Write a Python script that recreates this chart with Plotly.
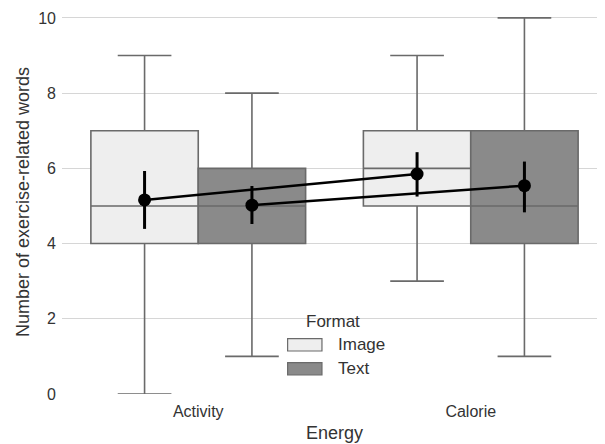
import plotly.graph_objects as go

categories = ["Activity", "Calorie"]
formats = ["Image", "Text"]

# box statistics per format, per category
lowerfence = {"Image": [0, 3], "Text": [1, 1]}
q1 = {"Image": [4, 5], "Text": [4, 4]}
median = {"Image": [5, 6], "Text": [5, 5]}
q3 = {"Image": [7, 7], "Text": [6, 7]}
upperfence = {"Image": [9, 9], "Text": [8, 10]}

# means with confidence intervals
mean = {"Image": [5.16, 5.85], "Text": [5.02, 5.54]}
ci_low = {"Image": [4.39, 5.25], "Text": [4.52, 4.83]}
ci_high = {"Image": [5.93, 6.43], "Text": [5.53, 6.18]}

fills = {"Image": "#eeeeee", "Text": "#8a8a8a"}
edge = "#6a6a6a"
font = "Liberation Sans, Arial, sans-serif"

box_w = 0.394
offsets = {"Image": -box_w / 2, "Text": box_w / 2}

fig = go.Figure()
for f in formats:
    xs = [i + offsets[f] for i in range(len(categories))]
    fig.add_trace(go.Box(
        x=xs, q1=q1[f], median=median[f], q3=q3[f],
        lowerfence=lowerfence[f], upperfence=upperfence[f],
        width=box_w, whiskerwidth=0.5, fillcolor=fills[f],
        line=dict(color=edge, width=1.6), boxpoints=False,
        name=f, showlegend=False, hoverinfo="skip",
    ))
for f in formats:
    xs = [i + offsets[f] for i in range(len(categories))]
    fig.add_trace(go.Scatter(
        x=xs, y=mean[f], mode="lines+markers",
        line=dict(color="black", width=2.5),
        marker=dict(color="black", size=13),
        error_y=dict(type="data", symmetric=False,
                     array=[h - m for h, m in zip(ci_high[f], mean[f])],
                     arrayminus=[m - l for m, l in zip(mean[f], ci_low[f])],
                     color="black", thickness=3, width=0),
        showlegend=False, hoverinfo="skip",
    ))

# legend drawn manually
fig.add_annotation(x=0.497, y=0.19, xref="paper", yref="paper", text="Format",
                   showarrow=False, font=dict(size=17, color="#333", family=font),
                   xanchor="center", yanchor="middle")
for k, f in enumerate(formats):
    yc = 0.128 - k * 0.0625
    fig.add_shape(type="rect", xref="paper", yref="paper",
                  x0=0.414, x1=0.477, y0=yc - 0.016, y1=yc + 0.016,
                  fillcolor=fills[f], line=dict(color=edge, width=1.2))
    fig.add_annotation(x=0.502, y=yc, xref="paper", yref="paper", text=f,
                       showarrow=False, font=dict(size=17, color="#333", family=font),
                       xanchor="left", yanchor="middle")

fig.update_layout(
    width=599, height=436,
    margin=dict(l=54, r=0, t=2, b=50),
    plot_bgcolor="white", paper_bgcolor="white",
    boxmode="overlay",
    font=dict(family=font, size=16, color="#333"),
    xaxis=dict(range=[-0.5, 1.5], tickvals=list(range(len(categories))),
               ticktext=categories, showgrid=False, zeroline=False,
               ticklabelstandoff=6,
               title=dict(text="Energy", font=dict(size=18), standoff=7),
               ticks="", showline=False),
    yaxis=dict(range=[0, 10.21], tickvals=[0, 2, 4, 6, 8, 10],
               gridcolor="#d6d6d6", gridwidth=1, zeroline=False,
               ticklabelstandoff=5,
               title=dict(text="Number of exercise-related words", font=dict(size=18), standoff=3),
               ticks="", showline=False),
)
fig.write_html("out.html")
